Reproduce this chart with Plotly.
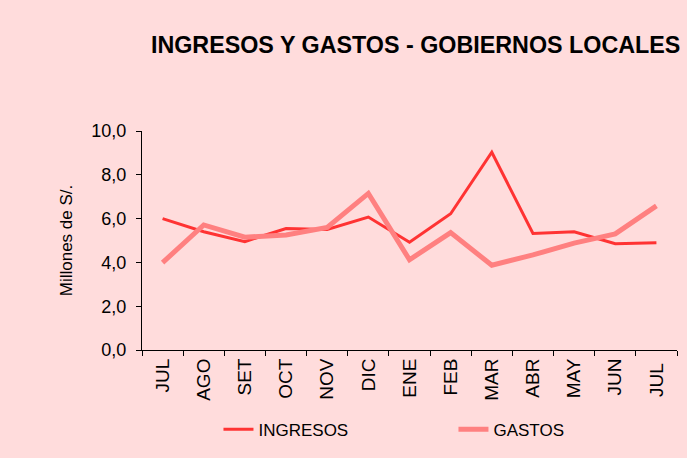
import plotly.graph_objects as go

meses = ["JUL", "AGO", "SET", "OCT", "NOV", "DIC", "ENE", "FEB", "MAR", "ABR", "MAY", "JUN", "JUL "]
ingresos = [6.0, 5.4, 4.95, 5.55, 5.5, 6.07, 4.92, 6.22, 9.03, 5.32, 5.4, 4.85, 4.9]
gastos = [3.99, 5.71, 5.15, 5.25, 5.6, 7.15, 4.12, 5.36, 3.87, 4.34, 4.88, 5.3, 6.58]

fig = go.Figure()

fig.add_trace(go.Scatter(x=meses, y=ingresos, mode="lines", name="INGRESOS",
                         line=dict(color="#FF3333", width=3)))
fig.add_trace(go.Scatter(x=meses, y=gastos, mode="lines", name="GASTOS",
                         line=dict(color="#FF8080", width=5)))

fig.update_layout(
    width=687, height=458,
    paper_bgcolor="#FFDCDC", plot_bgcolor="#FFDCDC",
    separators=",.",
    margin=dict(l=142, r=10, t=131, b=108),
    font=dict(family="Liberation Sans, Arial", size=17, color="black"),
    title=dict(text="<b>INGRESOS Y GASTOS - GOBIERNOS LOCALES</b>",
               xref="container", x=0.605, xanchor="center",
               yref="container", y=0.902, yanchor="middle",
               font=dict(size=23.3)),
    showlegend=True,
    legend=dict(orientation="h", xref="container", x=0.318, xanchor="left",
                yref="container", y=0.062, yanchor="middle",
                bgcolor="rgba(0,0,0,0)", entrywidth=190, font=dict(size=17)),
)

fig.update_xaxes(type="category", range=[-0.5, len(meses) - 0.5], tickson="boundaries",
                 ticks="outside", ticklen=5, tickangle=-90, showline=True,
                 linecolor="black", linewidth=1, tickcolor="black", showgrid=False,
                 tickfont=dict(size=19))
fig.update_yaxes(range=[0, 10], dtick=2, tickformat=".1f", ticks="outside", ticklen=5,
                 ticklabelstandoff=6, showline=True, linecolor="black", linewidth=1,
                 tickcolor="black", showgrid=False, zeroline=False, tickfont=dict(size=18),
                 title=dict(text="Millones de S/.", font=dict(size=17), standoff=14))

fig.write_html("out.html", config={"displayModeBar": False},
               post_script="document.body.style.margin='0';")
